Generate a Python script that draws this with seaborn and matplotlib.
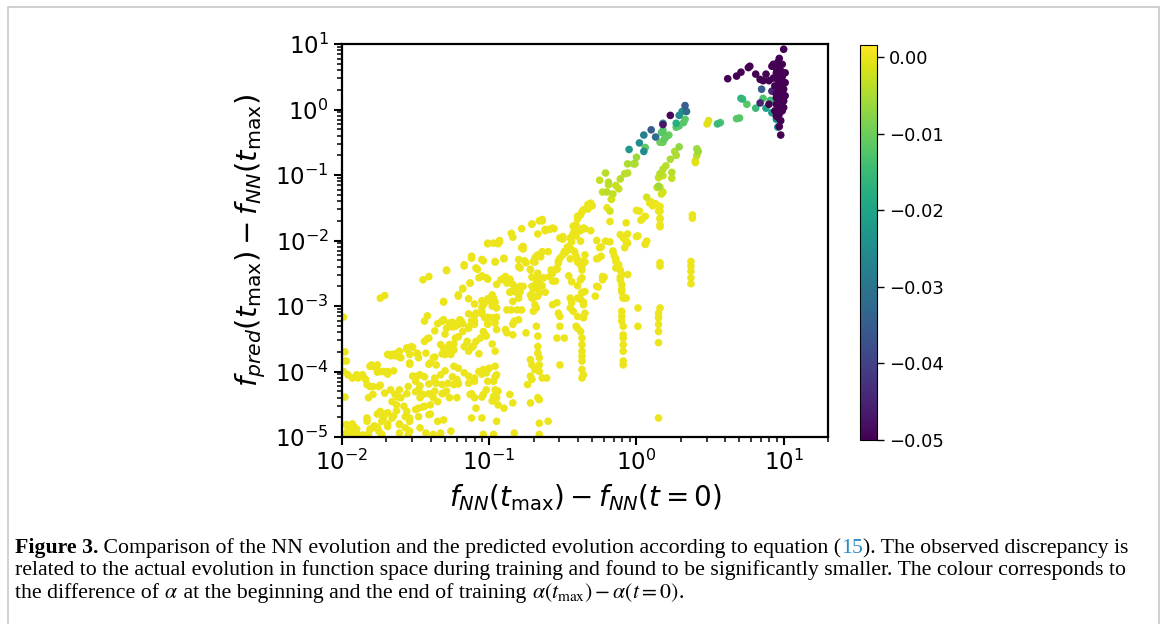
import numpy as np
import pandas as pd
import matplotlib
matplotlib.use("Agg")
import matplotlib.pyplot as plt
import matplotlib.patches as mpatches
from matplotlib.transforms import IdentityTransform
from matplotlib.ticker import FuncFormatter, LogLocator, NullFormatter
import seaborn as sns

# ---------------- data (log10 of the plotted quantities) ----------------
# points with alpha difference ~ 0 (yellow): (log10 dx, log10 dy)
yellow_pts = [
    (-1.99, -3.17), (-1.98, -3.70), (-1.97, -3.84), (-1.99, -3.84), (-1.99, -4.00), (-1.96, -4.05),
    (-1.93, -4.10), (-1.90, -4.05), (-1.89, -4.10), (-1.86, -4.05), (-1.84, -4.12), (-1.98, -4.39),
    (-1.97, -4.81), (-1.95, -4.86), (-1.92, -4.84), (-1.91, -4.89), (-1.96, -4.91), (-1.98, -4.96),
    (-1.93, -4.96), (-1.90, -4.94), (-1.86, -4.97), (-1.99, -4.99), (-1.83, -4.20), (-1.81, -4.23),
    (-1.79, -4.23), (-1.80, -3.90), (-1.76, -3.90), (-1.74, -4.00), (-1.72, -4.00), (-1.69, -4.00),
    (-1.74, -2.88), (-1.71, -2.84), (-1.82, -4.40), (-1.79, -4.35), (-1.75, -4.23), (-1.71, -4.33),
    (-1.74, -4.21), (-1.83, -4.71), (-1.79, -4.86), (-1.74, -4.61), (-1.72, -4.71), (-1.69, -4.63),
    (-1.75, -4.91), (-1.73, -4.96), (-1.69, -4.84), (-1.66, -4.71), (-1.69, -3.74), (-1.66, -3.74),
    (-1.64, -3.73), (-1.61, -3.69), (-1.60, -3.79), (-1.56, -3.64), (-1.53, -3.62), (-1.54, -3.74),
    (-1.54, -3.87), (-1.49, -3.72), (-1.48, -3.79), (-1.67, -4.28), (-1.64, -4.35), (-1.61, -4.28),
    (-1.60, -4.40), (-1.55, -4.23), (-1.66, -4.46), (-1.63, -4.51), (-1.58, -4.53), (-1.56, -4.61),
    (-1.54, -4.71), (-1.61, -4.81), (-1.57, -4.86), (-1.54, -4.91), (-1.61, -4.94), (-1.55, -4.96),
    (-1.47, -4.86), (-1.43, -4.94), (-1.38, -4.96), (-1.33, -4.94), (-1.26, -4.91), (-1.45, -2.60),
    (-1.41, -2.55), (-1.44, -3.23), (-1.42, -3.15), (-1.47, -4.05), (-1.50, -4.15), (-1.48, -4.28),
    (-1.45, -4.35), (-1.47, -4.40), (-1.50, -4.58), (-1.48, -4.56), (-1.44, -4.53), (-1.41, -4.66),
    (-1.44, -3.54), (-1.41, -3.49), (-1.43, -3.72), (-1.40, -3.87), (-1.38, -3.79), (-1.36, -3.90),
    (-1.37, -4.10), (-1.33, -4.05), (-1.36, -4.18), (-1.32, -4.20), (-1.31, -4.33), (-1.35, -4.46),
    (-1.38, -4.40), (-1.40, -4.51), (-1.35, -3.27), (-1.31, -3.21), (-1.29, -3.34), (-1.27, -3.26),
    (-1.23, -3.31), (-1.21, -3.28), (-1.19, -3.23), (-1.33, -3.59), (-1.31, -3.64), (-1.30, -3.74),
    (-1.28, -3.69), (-1.27, -3.59), (-1.23, -3.49), (-1.24, -3.67), (-1.31, -2.93), (-1.29, -2.45),
    (-1.26, -3.74), (-1.24, -3.92), (-1.21, -3.95), (-1.22, -4.12), (-1.28, -4.18), (-1.24, -4.20),
    (-1.21, -4.18), (-1.29, -4.30), (-1.27, -4.40), (-1.22, -4.40), (-1.31, -4.74), (-1.21, -2.83),
    (-1.18, -2.73), (-1.17, -2.37), (-1.13, -2.65), (-1.12, -2.24), (-1.09, -2.42), (-1.05, -2.29),
    (-1.07, -2.57), (-1.02, -2.57), (-1.18, -3.39), (-1.15, -3.54), (-1.14, -3.34), (-1.12, -3.23),
    (-1.10, -3.28), (-1.09, -3.11), (-1.05, -3.08), (-1.04, -2.98), (-1.02, -2.93), (-1.00, -2.90),
    (-0.98, -2.83), (-0.97, -2.88), (-0.95, -3.03), (-1.17, -3.62), (-1.14, -3.69), (-1.11, -3.62),
    (-1.09, -3.54), (-1.06, -3.49), (-1.04, -3.39), (-1.02, -3.46), (-1.01, -3.28), (-1.03, -3.18),
    (-0.98, -3.18), (-0.96, -3.26), (-0.95, -3.36), (-1.17, -4.02), (-1.14, -4.18), (-1.12, -4.12),
    (-1.10, -4.10), (-1.07, -4.00), (-1.04, -3.97), (-1.02, -4.02), (-1.00, -3.95), (-0.96, -3.92),
    (-0.95, -4.05), (-0.97, -4.15), (-1.13, -4.35), (-1.10, -4.40), (-1.09, -4.56), (-1.04, -4.35),
    (-1.02, -4.28), (-0.97, -4.38), (-0.95, -4.40), (-0.94, -4.51), (-0.96, -4.28), (-1.12, -4.71),
    (-1.05, -4.71), (-1.04, -4.96), (-0.95, -4.76), (-0.97, -4.96), (-1.01, -2.04), (-0.97, -2.04),
    (-0.93, -2.00), (-0.96, -2.32), (-0.90, -2.27), (-0.85, -1.89), (-0.84, -1.95), (-0.78, -1.82),
    (-0.71, -1.75), (-0.66, -1.70), (-0.64, -1.68), (-0.62, -1.83), (-0.59, -1.83), (-0.57, -1.81),
    (-0.95, -2.67), (-0.92, -2.60), (-0.89, -2.55), (-0.88, -2.65), (-0.86, -2.60), (-0.84, -2.67),
    (-0.85, -2.78), (-0.83, -2.75), (-0.81, -2.73), (-0.79, -2.70), (-0.77, -2.70), (-0.88, -3.06),
    (-0.85, -3.06), (-0.81, -3.06), (-0.78, -3.06), (-0.84, -2.93), (-0.80, -2.88), (-0.81, -2.80),
    (-0.89, -3.36), (-0.88, -3.41), (-0.84, -3.28), (-0.83, -3.23), (-0.80, -3.21), (-0.84, -3.44),
    (-0.90, -4.56), (-0.86, -4.35), (-0.84, -4.48), (-0.83, -4.94), (-0.80, -2.29), (-0.79, -2.42),
    (-0.75, -2.34), (-0.78, -2.11), (-0.77, -2.09), (-0.72, -2.45), (-0.71, -2.70), (-0.70, -2.32),
    (-0.69, -2.27), (-0.68, -2.24), (-0.67, -2.22), (-0.64, -2.17), (-0.63, -2.57), (-0.60, -2.17),
    (-0.72, -2.83), (-0.71, -2.88), (-0.69, -2.98), (-0.70, -3.08), (-0.68, -3.03), (-0.67, -2.85),
    (-0.66, -2.80), (-0.67, -2.73), (-0.68, -2.65), (-0.66, -2.60), (-0.67, -2.50), (-0.75, -3.41),
    (-0.72, -3.82), (-0.71, -3.90), (-0.69, -3.97), (-0.72, -4.07), (-0.74, -4.20), (-0.71, -4.12),
    (-0.67, -4.40), (-0.66, -4.43), (-0.72, -4.48), (-0.68, -3.31), (-0.67, -3.46), (-0.67, -3.62),
    (-0.67, -3.72), (-0.66, -3.79), (-0.66, -3.90), (-0.66, -4.00), (-0.64, -4.10), (-0.61, -4.10),
    (-0.66, -4.79), (-0.60, -4.76), (-0.66, -4.96), (-0.59, -2.55), (-0.57, -2.50), (-0.54, -2.42),
    (-0.53, -2.34), (-0.52, -2.27), (-0.50, -2.22), (-0.49, -2.17), (-0.52, -1.96), (-0.50, -1.94),
    (-0.58, -2.45), (-0.55, -2.62), (-0.57, -2.98), (-0.54, -2.95), (-0.53, -3.11), (-0.52, -3.16),
    (-0.52, -3.31), (-0.54, -3.49), (-0.49, -3.49), (-0.52, -3.90), (-0.45, -1.96), (-0.43, -1.89),
    (-0.40, -1.83), (-0.36, -1.81), (-0.33, -1.45), (-0.31, -1.43), (-0.36, -1.53), (-0.38, -1.61),
    (-0.40, -1.63), (-0.46, -2.09), (-0.44, -2.14), (-0.42, -2.17), (-0.41, -2.24), (-0.40, -2.29),
    (-0.38, -2.37), (-0.37, -2.45), (-0.36, -2.32), (-0.35, -2.22), (-0.38, -2.01), (-0.41, -1.76),
    (-0.42, -1.86), (-0.45, -2.88), (-0.44, -2.95), (-0.45, -3.03), (-0.43, -3.08), (-0.40, -2.88),
    (-0.38, -2.90), (-0.37, -2.80), (-0.35, -2.78), (-0.36, -2.98), (-0.35, -3.11), (-0.40, -3.16),
    (-0.36, -3.18), (-0.41, -3.31), (-0.40, -3.34), (-0.38, -3.39), (-0.37, -3.49), (-0.37, -3.59),
    (-0.37, -3.69), (-0.37, -3.77), (-0.37, -3.84), (-0.37, -3.97), (-0.37, -4.10), (-0.36, -4.05),
    (-0.37, -2.57), (-0.38, -2.60), (-0.27, -2.00), (-0.25, -2.11), (-0.26, -2.27), (-0.24, -2.24),
    (-0.23, -2.55), (-0.23, -2.60), (-0.27, -2.70), (-0.20, -1.50), (-0.17, -1.37), (-0.18, -1.71),
    (-0.16, -2.17), (-0.15, -2.24), (-0.14, -2.32), (-0.14, -2.42), (-0.12, -2.37), (-0.11, -2.45),
    (-0.10, -2.52), (-0.11, -2.60), (-0.10, -2.67), (-0.10, -2.78), (-0.09, -2.88), (-0.10, -3.08),
    (-0.10, -3.16), (-0.10, -3.23), (-0.09, -3.31), (-0.09, -3.44), (-0.09, -3.49), (-0.09, -3.59),
    (-0.09, -3.69), (-0.09, -3.84), (-0.09, -3.90), (-0.11, -1.91), (-0.09, -1.96), (-0.07, -2.01),
    (-0.08, -2.11), (-0.06, -2.04), (-0.07, -2.88), (-0.06, -2.52), (-0.07, -1.73), (0.00, -1.54),
    (0.03, -1.69), (0.06, -1.63), (0.00, -1.94), (0.07, -2.01), (0.06, -2.06), (0.01, -3.03),
    (0.01, -3.31), (0.09, -1.43), (0.12, -1.45), (0.16, -1.48), (0.16, -1.55), (0.16, -1.66),
    (0.16, -1.76), (0.16, -2.34), (0.16, -2.39), (0.16, -3.03), (0.15, -3.11), (0.15, -3.18),
    (0.15, -3.28), (0.15, -3.39), (0.15, -3.56), (0.15, -4.71), (0.38, -1.61), (0.38, -1.66),
    (0.37, -2.32), (0.37, -2.39), (0.37, -2.47), (0.37, -2.57), (0.37, -2.66),
]

# further yellow points read from the dense regions
yellow_pts_dense = [
    (-1.96, -4.85), (-1.93, -4.80), (-1.93, -4.92), (-1.90, -4.88), (-1.83, -4.76), (-1.81, -4.88),
    (-1.78, -4.83), (-1.76, -4.65), (-1.73, -4.76), (-1.71, -4.65), (-1.69, -4.80), (-1.65, -4.68),
    (-1.63, -4.60), (-1.61, -4.80), (-1.57, -4.69), (-1.54, -4.76), (-1.76, -4.85), (-1.82, -4.95),
    (-1.62, -4.39), (-1.56, -4.34), (-1.50, -4.31), (-1.45, -4.54), (-1.41, -4.34), (-1.37, -4.30),
    (-1.32, -4.34), (-1.47, -4.22), (-1.52, -4.07), (-1.49, -4.07), (-1.44, -4.08), (-1.69, -4.04),
    (-1.65, -3.99), (-1.78, -3.93), (-1.76, -4.01), (-1.81, -3.92), (-1.67, -3.76), (-1.64, -3.76),
    (-1.61, -3.78), (-1.56, -3.66), (-1.52, -3.63), (-1.49, -3.73), (-1.54, -3.89), (-1.41, -3.89),
    (-1.37, -3.78), (-1.32, -3.73), (-1.28, -3.69), (-1.24, -3.58), (-1.21, -3.47), (-1.25, -3.32),
    (-1.32, -3.23), (-1.37, -3.38), (-1.42, -3.50), (-1.30, -3.99), (-1.25, -4.08), (-1.21, -4.19),
    (-1.37, -4.15), (-1.41, -4.19), (-1.14, -4.07), (-1.10, -4.15), (-1.05, -4.04), (-1.01, -4.15),
    (-0.96, -4.08), (-1.12, -4.34), (-1.05, -4.39), (-0.98, -4.45), (-0.94, -4.30), (-1.12, -3.63),
    (-1.07, -3.73), (-0.98, -3.58), (-0.96, -3.69), (-1.03, -3.43), (-1.14, -3.32), (-1.10, -3.23),
    (-1.01, -3.27), (-1.18, -3.27), (-1.30, -3.43), (-1.48, -4.69), (-1.40, -4.65), (-1.35, -4.76),
    (-0.93, -2.02), (-0.90, -2.28), (-0.91, -2.59), (-0.86, -2.59), (-0.86, -2.79), (-0.79, -2.79),
    (-0.77, -2.13), (-0.76, -2.31), (-0.80, -2.40), (-0.71, -1.75), (-0.64, -1.70), (-0.67, -1.90),
    (-0.62, -1.85), (-0.56, -1.82), (-0.72, -2.44), (-0.69, -2.33), (-0.65, -2.25), (-0.71, -2.56),
    (-0.67, -2.59), (-0.64, -2.69), (-0.70, -2.74), (-0.69, -2.86), (-0.62, -2.79), (-0.57, -2.62),
    (-0.54, -2.44), (-0.53, -2.31), (-0.50, -1.98), (-0.47, -2.10), (-0.44, -2.02), (-0.41, -1.93),
    (-0.43, -1.78), (-0.40, -1.67), (-0.37, -1.56), (-0.33, -1.52), (-0.30, -1.47), (-0.38, -1.85),
    (-0.35, -1.82), (-0.31, -1.85), (-0.48, -2.18), (-0.45, -2.28), (-0.40, -2.33), (-0.37, -2.40),
    (-0.35, -2.33), (-0.46, -2.54), (-0.44, -2.63), (-0.40, -2.69), (-0.37, -2.79), (-0.36, -2.94),
    (-0.27, -2.28), (-0.24, -2.10), (-0.21, -2.01), (-0.18, -2.02), (-0.16, -2.16), (-0.14, -2.28),
    (-0.13, -2.40), (-0.11, -2.56), (-0.10, -2.74), (-0.09, -2.86), (-0.07, -2.01), (-0.06, -1.90),
    (-0.22, -2.56), (-0.26, -2.71), (-0.28, -2.85), (0.01, -1.93), (0.06, -2.05), (0.04, -1.67),
    (0.02, -1.55), (0.10, -1.41), (0.11, -1.47), (0.13, -1.44), (0.15, -1.55), (0.16, -1.67),
    (0.16, -1.79), (-1.01, -2.05), (-0.94, -2.05), (-1.12, -2.27), (-1.04, -2.31), (-0.96, -2.33),
    (-1.17, -2.39), (-1.08, -2.44), (-1.29, -2.46), (-1.05, -2.54), (-1.01, -2.59), (-0.91, -2.59),
    (-1.13, -2.65), (-1.18, -2.74), (-1.21, -2.85), (-1.14, -2.89), (-1.31, -2.94), (-1.10, -2.97),
    (-1.05, -2.92), (-1.01, -2.89), (-0.98, -2.85), (-0.96, -2.94), (-0.98, -3.00), (-1.05, -3.02),
    (-1.14, -3.12), (-1.10, -3.15), (-1.05, -3.12), (-1.01, -3.17), (-0.95, -3.17), (-1.20, -3.21),
    (-1.32, -3.23), (-1.25, -3.25),
]

# points in the upper part with individual colour: (log10 dx, log10 dy, alpha difference)
upper_pts = [
    (0.29, -0.57, -0.007), (0.26, -0.64, -0.005), (0.27, -0.70, -0.005), (0.23, -0.76, -0.005),
    (0.20, -0.86, -0.004), (0.18, -0.91, -0.004), (0.16, -0.98, -0.004), (0.15, -1.04, -0.003),
    (0.18, -1.01, -0.003), (0.24, -0.96, -0.004), (0.24, -1.05, -0.003), (0.00, -0.73, -0.006),
    (-0.01, -0.83, -0.005), (-0.02, -0.83, -0.005), (-0.06, -0.83, -0.005), (-0.06, -0.97, -0.004),
    (-0.08, -0.98, -0.004), (-0.11, -1.06, -0.004), (-0.14, -1.16, -0.003), (-0.12, -1.21, -0.003),
    (-0.16, -1.29, -0.003), (-0.17, -1.37, -0.002), (-0.21, -0.97, -0.004), (-0.25, -1.08, -0.003),
    (-0.19, -1.15, -0.003), (-0.23, -1.26, -0.003), (0.14, -1.19, -0.003), (0.16, -1.19, -0.003),
    (0.18, -1.26, -0.002), (0.17, -1.29, -0.002), (0.07, -1.34, -0.002), (0.41, -0.60, -0.006),
    (0.42, -0.64, -0.006), (0.41, -0.70, -0.004), (0.40, -0.78, -0.001), (0.40, -0.81, -0.001),
    (0.48, -0.22, -0.001), (0.49, -0.17, -0.001), (0.15, -1.17, -0.006), (-0.20, -1.26, -0.004),
    (-0.19, -1.11, -0.004), (-0.18, -1.55, -0.002),
    (0.17, -0.35, -0.012), (0.18, -0.32, -0.012), (0.20, -0.40, -0.010), (0.22, -0.39, -0.010),
    (0.19, -0.45, -0.011), (0.16, -0.50, -0.010), (0.18, -0.50, -0.010), (0.20, -0.42, -0.011),
    (0.33, -0.15, -0.012), (0.32, -0.20, -0.012), (0.29, -0.25, -0.012), (0.27, -0.27, -0.012),
    (0.27, -0.21, -0.018), (0.06, -0.58, -0.011), (0.55, -0.22, -0.015), (0.57, -0.20, -0.013),
    (0.68, -0.14, -0.012), (0.70, -0.13, -0.012), (0.71, 0.17, -0.016), (0.72, 0.16, -0.016),
    (0.75, 0.08, -0.012), (0.81, 0.02, -0.015), (0.86, 0.17, -0.013), (0.88, 0.02, -0.020),
    (0.91, 0.14, -0.015), (0.92, -0.05, -0.022), (0.95, -0.15, -0.022), (0.96, -0.27, -0.025),
    (0.33, 0.06, -0.035), (0.34, -0.03, -0.032), (0.31, -0.03, -0.025), (0.29, -0.09, -0.025),
    (0.18, -0.21, -0.025), (0.10, -0.31, -0.035), (0.05, -0.39, -0.028), (0.13, -0.42, -0.032),
    (0.02, -0.51, -0.025), (-0.05, -0.61, -0.022), (0.05, -0.64, -0.025), (0.85, 0.31, -0.035),
    (0.92, 0.28, -0.045), (0.84, 0.10, -0.045),
    (0.23, -0.09, -0.049), (0.18, -0.23, -0.047), (1.00, 0.92, -0.050), (0.62, 0.47, -0.050),
    (0.68, 0.51, -0.050), (0.71, 0.57, -0.050), (0.76, 0.64, -0.050), (0.77, 0.66, -0.050),
    (0.81, 0.54, -0.050), (0.84, 0.46, -0.050), (0.86, 0.44, -0.050), (0.88, 0.54, -0.050),
    (0.92, 0.66, -0.050), (0.93, 0.69, -0.050), (0.96, 0.72, -0.050), (0.97, 0.66, -0.050),
    (0.98, 0.59, -0.050), (0.95, 0.56, -0.050), (0.90, 0.44, -0.050), (0.96, 0.46, -0.050),
    (0.98, 0.41, -0.050), (0.94, 0.36, -0.050), (0.97, 0.31, -0.050), (1.00, 0.31, -0.050),
    (0.95, 0.23, -0.050), (0.98, 0.21, -0.050), (0.96, 0.16, -0.050), (1.00, 0.13, -0.050),
    (0.97, 0.08, -0.050), (0.90, 0.08, -0.050), (0.98, 0.01, -0.050), (0.96, -0.05, -0.050),
    (0.94, -0.02, -0.050), (1.00, 0.03, -0.050), (0.97, -0.07, -0.050), (0.95, -0.10, -0.050),
    (0.97, -0.26, -0.050), (0.98, -0.39, -0.050), (1.01, 0.56, -0.050), (1.01, 0.41, -0.050),
    (0.93, 0.48, -0.050), (1.01, 0.21, -0.050), (0.95, 0.08, -0.050), (0.99, 0.50, -0.050),
    (0.97, 0.49, -0.050), (0.99, 0.37, -0.050), (0.96, 0.26, -0.050), (0.99, 0.26, -0.050),
    (0.98, 0.11, -0.050), (0.95, 0.18, -0.050), (0.99, -0.02, -0.050), (0.96, -0.12, -0.050),
    (0.98, -0.17, -0.050), (0.95, 0.63, -0.050), (0.99, 0.69, -0.050), (0.97, 0.78, -0.050),
    (0.98, 0.53, -0.050),
]
yellow_alpha_diff = 0.0

x_limits = (1e-2, 20)
y_limits = (1e-5, 10)
c_limits = (-0.05, 0.0016)
cbar_ticks = [0.00, -0.01, -0.02, -0.03, -0.04, -0.05]

xlabel = r"$f_{NN}(t_{\max}) - f_{NN}(t=0)$"
ylabel = r"$f_{pred}(t_{\max}) - f_{NN}(t_{\max})$"

# ---------------- assemble ----------------
yl = np.array(yellow_pts + yellow_pts_dense)
ul = np.array(sorted(upper_pts, key=lambda p: -p[2]))
df = pd.DataFrame({
    "dx": np.concatenate([10 ** yl[:, 0], 10 ** ul[:, 0]]),
    "dy": np.concatenate([10 ** yl[:, 1], 10 ** ul[:, 1]]),
    "dalpha": np.concatenate([np.full(len(yl), yellow_alpha_diff), ul[:, 2]]),
})

W, H = 1167, 624
fig = plt.figure(figsize=(W / 100, H / 100), dpi=100)
fig.patch.set_facecolor("white")

ax = fig.add_axes([342 / W, 1 - 437 / H, (828 - 342) / W, (437 - 44) / H])
sns.scatterplot(data=df, x="dx", y="dy", hue="dalpha", palette="viridis",
                hue_norm=c_limits, s=30, linewidth=0, alpha=1.0, legend=False, ax=ax)
ax.set_xscale("log")
ax.set_yscale("log")
ax.set_xlim(*x_limits)
ax.set_ylim(*y_limits)
ax.set_xlabel(xlabel, fontsize=20, labelpad=5)
ax.set_ylabel(ylabel, fontsize=21, labelpad=5)
ax.xaxis.set_major_locator(LogLocator(base=10, numticks=20))
ax.yaxis.set_major_locator(LogLocator(base=10, numticks=20))
ax.xaxis.set_minor_locator(LogLocator(base=10, subs=np.arange(2, 10), numticks=50))
ax.yaxis.set_minor_locator(LogLocator(base=10, subs=np.arange(2, 10), numticks=50))
ax.xaxis.set_minor_formatter(NullFormatter())
ax.yaxis.set_minor_formatter(NullFormatter())
ax.tick_params(which="major", labelsize=16.5, length=6, width=1.5, direction="out")
ax.tick_params(which="minor", length=3.5, width=1.1, direction="out")
for sp in ax.spines.values():
    sp.set_linewidth(1.6)
    sp.set_visible(True)

cax = fig.add_axes([860 / W, 1 - 440 / H, 17 / W, (440 - 45) / H])
sm = matplotlib.cm.ScalarMappable(norm=matplotlib.colors.Normalize(*c_limits), cmap="viridis")
cb = fig.colorbar(sm, cax=cax, ticks=cbar_ticks)
cb.ax.yaxis.set_major_formatter(FuncFormatter(
    lambda v, p: "0.00" if abs(v) < 1e-9 else f"{v:.2f}".replace("-", "\u2212")))
cb.ax.tick_params(labelsize=13, length=5, width=1.0)
cb.outline.set_linewidth(0.8)

# border box
fig.patches.append(mpatches.Rectangle((7.5 / W, -0.02), (1159 - 7.5) / W, 1.02 - 6.5 / H,
                                      transform=fig.transFigure, fill=False,
                                      edgecolor="#c8c8c8", linewidth=1.2))

# ---------------- caption ----------------
renderer = fig.canvas.get_renderer()
serif = "Liberation Serif"
line1 = [("Figure 3.", dict(weight="bold")),
         (" Comparison of the NN evolution and the predicted evolution according to equation (", {}),
         ("15", dict(color="#2b8cc4")),
         ("). The observed discrepancy is", {})]
line2 = [("related to the actual evolution in function space during training and found to be "
          "significantly smaller. The colour corresponds to", {})]
line3 = [("the difference of ", {}),
         (r"$\alpha$", dict(math_fontfamily="stix")),
         (" at the beginning and the end of training ", {}),
         (r"$\alpha(t_{\mathrm{max}}) - \alpha(t = 0)$", dict(math_fontfamily="stix")),
         (".", {})]

probe = fig.text(0, 0, line2[0][0], fontsize=10, family=serif, transform=IdentityTransform())
wprobe = probe.get_window_extent(renderer).width
probe.remove()
cap_fs = 10 * (1124 - 15) / wprobe


def place(runs, x0, y_img):
    x = x0
    for s, kw in runs:
        t = fig.text(x, H - y_img, s, fontsize=cap_fs, family=serif, va="baseline",
                     transform=IdentityTransform(), **kw)
        x += t.get_window_extent(renderer).width


place(line1, 15, 553)
place(line2, 15, 575)
place(line3, 15, 598)

fig.savefig("out.png", dpi=100)
